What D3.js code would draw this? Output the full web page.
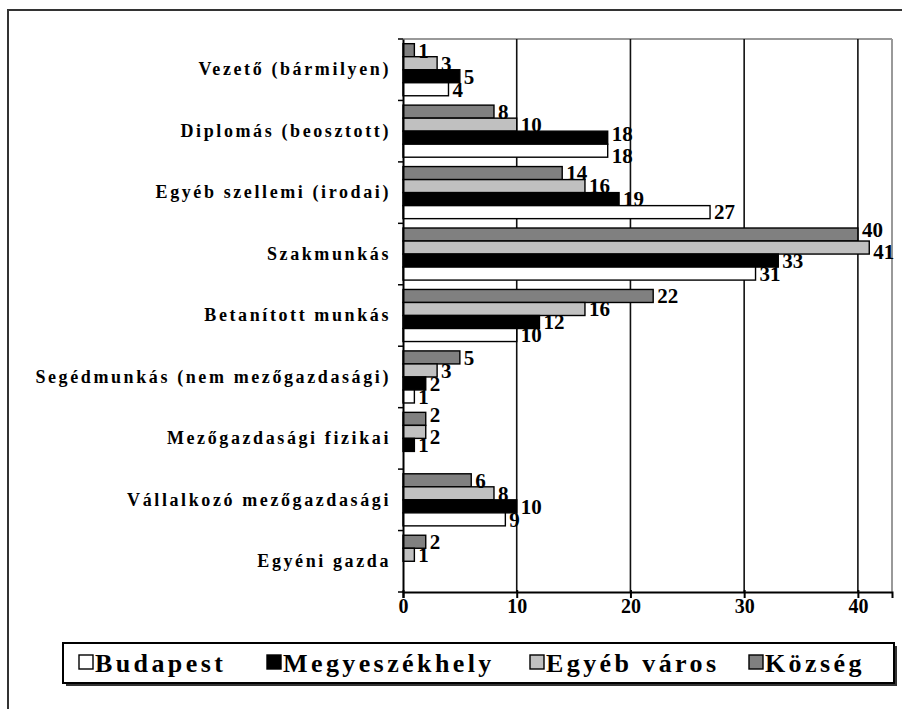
<!DOCTYPE html>
<html>
<head>
<meta charset="utf-8">
<script src="https://cdn.jsdelivr.net/npm/d3@7"></script>
<style>
  html, body { margin: 0; padding: 0; background: #fff; }
  svg { display: block; }
  text { font-family: "Liberation Serif", "Times New Roman", serif; font-weight: bold; fill: #000; }
</style>
</head>
<body>
<script>
const categories = [
  "Vezető (bármilyen)",
  "Diplomás (beosztott)",
  "Egyéb szellemi (irodai)",
  "Szakmunkás",
  "Betanított munkás",
  "Segédmunkás (nem mezőgazdasági)",
  "Mezőgazdasági fizikai",
  "Vállalkozó mezőgazdasági",
  "Egyéni gazda"
];
const seriesNames = ["Budapest", "Megyeszékhely", "Egyéb város", "Község"];
const budapest      = [4, 18, 27, 31, 10, 1, 0, 9, 0];
const megyeszekhely = [5, 18, 19, 33, 12, 2, 1, 10, 0];
const egyebVaros    = [3, 10, 16, 41, 16, 3, 2, 8, 1];
const kozseg        = [1, 8, 14, 40, 22, 5, 2, 6, 2];
const xTicks = [0, 10, 20, 30, 40];

(function () {
const W = 902, H = 709;
const svg = d3.select("body").append("svg").attr("width", W).attr("height", H);

// outer frame
svg.append("rect").attr("x", 8).attr("y", 10).attr("width", W).attr("height", H)
  .attr("fill", "none").attr("stroke", "#333").attr("stroke-width", 2);

const pL = 403, pR = 892, pT = 39, pB = 592;
const x = d3.scaleLinear().domain([0, 43]).range([pL, pR]);
const y = d3.scaleBand().domain(categories).range([pT, pB]).paddingInner(0).paddingOuter(0);

const drawOrder = ["Község", "Egyéb város", "Megyeszékhely", "Budapest"];
const valuesBy = { "Budapest": budapest, "Megyeszékhely": megyeszekhely, "Egyéb város": egyebVaros, "Község": kozseg };
const fills = { "Budapest": "#ffffff", "Megyeszékhely": "#000000", "Egyéb város": "#c0c0c0", "Község": "#808080" };
const sub = d3.scaleBand().domain(drawOrder).range([0, y.bandwidth()]).paddingInner(0).paddingOuter(0.36);

// plot frame (top / right in gray)
svg.append("line").attr("x1", pL).attr("x2", pR).attr("y1", pT).attr("y2", pT)
  .attr("stroke", "#999").attr("stroke-width", 2);
svg.append("line").attr("x1", pR).attr("x2", pR).attr("y1", pT).attr("y2", pB)
  .attr("stroke", "#999").attr("stroke-width", 2);

// gridlines
svg.append("g").selectAll("line").data(xTicks.filter(d => d > 0)).join("line")
  .attr("x1", d => x(d)).attr("x2", d => x(d)).attr("y1", pT).attr("y2", pB)
  .attr("stroke", "#111").attr("stroke-width", 1.6);

// bars
const rows = [];
categories.forEach((c, i) => drawOrder.forEach(s => rows.push({ c, s, v: valuesBy[s][i] })));
const shown = rows.filter(d => d.v > 0);
svg.append("g").selectAll("rect").data(shown).join("rect")
  .attr("x", x(0))
  .attr("y", d => y(d.c) + sub(d.s))
  .attr("width", d => x(d.v) - x(0))
  .attr("height", sub.bandwidth())
  .attr("fill", d => fills[d.s])
  .attr("stroke", "#000").attr("stroke-width", 1.4);

// value labels, with simple vertical de-overlap inside each category
const fs = 21, gap = 22;
shown.forEach(d => {
  d.lx = x(d.v) + 4;
  d.lw = String(d.v).length * fs * 0.5;
  d.ly = y(d.c) + sub(d.s) + sub.bandwidth() / 2;
});
categories.forEach(c => {
  const L = shown.filter(d => d.c === c);
  for (let it = 0; it < 20; it++) {
    for (let i = 0; i < L.length; i++) for (let j = i + 1; j < L.length; j++) {
      const a = L[i], b = L[j];
      const xo = a.lx < b.lx + b.lw - 1 && b.lx < a.lx + a.lw - 1;
      const dy = b.ly - a.ly;
      if (xo && dy < gap) { const s = (gap - dy) / 2; a.ly -= s; b.ly += s; }
    }
  }
});
svg.append("g").selectAll("text").data(shown).join("text")
  .attr("x", d => d.lx)
  .attr("y", d => d.ly)
  .attr("dy", "0.35em")
  .attr("font-size", fs)
  .text(d => d.v);

// x axis
const xAxis = svg.append("g").attr("transform", `translate(0,${pB})`)
  .call(d3.axisBottom(x).tickValues(xTicks).tickSize(6));
xAxis.select(".domain").attr("stroke", "#000").attr("stroke-width", 2);
xAxis.selectAll(".tick line").attr("stroke", "#000").attr("stroke-width", 2).attr("y1", -2);
xAxis.selectAll(".tick text").attr("font-size", 20).attr("font-family", "Liberation Serif")
  .attr("font-weight", "bold").attr("fill", "#000").attr("y", 21).attr("dy", 0);

// y axis
const yAxis = svg.append("g").attr("transform", `translate(${pL},0)`)
  .call(d3.axisLeft(y).tickSize(0).tickPadding(12));
yAxis.select(".domain").attr("stroke", "#000").attr("stroke-width", 2);
yAxis.selectAll(".tick text").attr("font-size", 18).attr("font-family", "Liberation Serif")
  .attr("font-weight", "bold").attr("fill", "#000").attr("letter-spacing", 2.6);
// category boundary ticks
svg.append("g").selectAll("line").data(categories.concat([null])).join("line")
  .attr("x1", pL - 5).attr("x2", pL)
  .attr("y1", (d, i) => pT + i * y.step()).attr("y2", (d, i) => pT + i * y.step())
  .attr("stroke", "#000").attr("stroke-width", 1.5);

// legend
const lg = svg.append("g");
lg.append("rect").attr("x", 66).attr("y", 646).attr("width", 831).attr("height", 40).attr("fill", "#333");
lg.append("rect").attr("x", 63).attr("y", 643).attr("width", 831).attr("height", 40)
  .attr("fill", "#fff").attr("stroke", "#000").attr("stroke-width", 2);
const legendX = [79, 267, 530, 749];
seriesNames.forEach((s, i) => {
  lg.append("rect").attr("x", legendX[i]).attr("y", 655).attr("width", 14).attr("height", 14)
    .attr("fill", fills[s]).attr("stroke", "#000").attr("stroke-width", 1.4);
  lg.append("text").attr("x", legendX[i] + 16).attr("y", 672).attr("font-size", 26)
    .attr("letter-spacing", 3.4).text(s);
});
})();
</script>
</body>
</html>
